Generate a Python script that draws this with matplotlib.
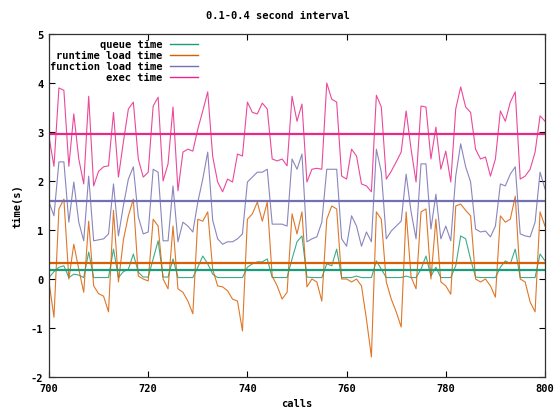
import numpy as np
import matplotlib
matplotlib.use("Agg")
import matplotlib.pyplot as plt

calls = list(range(700, 801))

exec_time = [2.9, 2.3, 3.9, 3.85, 2.3, 3.37, 2.45, 1.94, 3.73, 1.9,
             2.2, 2.29, 2.31, 3.4, 2.08, 2.8, 3.47, 3.61, 2.45, 2.08,
             2.18, 3.53, 3.71, 2.0, 2.35, 3.51, 1.8, 2.59, 2.65, 2.61,
             3.06, 3.43, 3.82, 2.5, 1.98, 1.78, 2.04, 1.98, 2.55, 2.51,
             3.61, 3.4, 3.37, 3.59, 3.47, 2.45, 2.41, 2.45, 2.31, 3.73,
             3.22, 3.57, 1.98, 2.24, 2.26, 2.24, 4.0, 3.67, 3.61, 2.1,
             2.04, 2.65, 2.51, 1.94, 1.9, 1.78, 3.75, 3.51, 2.04, 2.2,
             2.39, 2.59, 3.43, 2.65, 1.98, 3.53, 3.51, 2.45, 3.1, 2.24,
             2.61, 1.98, 3.47, 3.92, 3.51, 3.4, 2.65, 2.45, 2.49, 2.1,
             2.45, 3.43, 3.22, 3.61, 3.82, 2.04, 2.1, 2.24, 2.59, 3.33,
             3.22]

function_time = [1.57, 1.29, 2.39, 2.39, 1.16, 1.98, 1.16, 0.78, 2.1, 0.78,
                 0.8, 0.82, 0.92, 1.94, 0.88, 1.5, 2.04, 2.29, 1.27, 0.92,
                 0.96, 2.24, 2.18, 0.78, 0.78, 1.9, 0.76, 1.16, 1.08, 0.96,
                 1.57, 2.04, 2.59, 1.2, 0.82, 0.71, 0.76, 0.76, 0.82, 0.92,
                 1.98, 2.08, 2.18, 2.18, 2.24, 1.12, 1.12, 1.12, 1.08, 2.45,
                 2.24, 2.55, 0.76, 0.82, 0.86, 1.16, 2.24, 2.24, 2.24, 0.82,
                 0.67, 1.29, 1.08, 0.67, 0.96, 0.76, 2.65, 2.18, 0.82, 0.98,
                 1.08, 1.18, 2.14, 1.37, 0.82, 2.35, 2.35, 1.02, 1.73, 0.82,
                 1.08, 0.78, 2.1, 2.76, 2.29, 1.98, 1.02, 0.96, 0.98, 0.86,
                 1.08, 1.94, 1.9, 2.14, 2.29, 0.92, 0.88, 0.86, 1.16, 2.18,
                 1.84]

runtime_time = [-0.06, -0.78, 1.43, 1.63, 0.0, 0.71, 0.2, -0.27, 1.18, -0.14,
                -0.3, -0.35, -0.67, 1.4, -0.06, 0.8, 1.29, 1.63, 0.06, 0.0,
                -0.04, 1.22, 1.08, 0.0, -0.2, 1.08, -0.2, -0.27, -0.45, -0.71,
                1.22, 1.18, 1.37, 0.2, -0.14, -0.16, -0.24, -0.41, -0.45, -1.06,
                1.22, 1.33, 1.57, 1.18, 1.57, 0.06, -0.14, -0.41, -0.27, 1.33,
                0.92, 1.37, -0.16, 0.0, -0.06, -0.45, 1.22, 1.49, 1.43, 0.0,
                0.0, -0.06, 0.0, -0.14, -0.82, -1.59, 1.37, 1.22, -0.06, -0.41,
                -0.67, -0.98, 1.37, 0.04, -0.2, 1.37, 1.43, 0.0, 1.22, -0.06,
                -0.14, -0.31, 1.49, 1.53, 1.4, 1.29, 0.0, -0.06, 0.0, -0.14,
                -0.37, 1.29, 1.16, 1.22, 1.69, 0.0, -0.06, -0.47, -0.67, 1.37,
                1.08]

queue_time = [0.03, 0.15, 0.24, 0.27, 0.03, 0.1, 0.08, 0.03, 0.55, 0.03,
              0.03, 0.03, 0.03, 0.61, 0.03, 0.15, 0.2, 0.51, 0.14, 0.04,
              0.04, 0.41, 0.78, 0.04, 0.04, 0.41, 0.03, 0.03, 0.03, 0.03,
              0.24, 0.47, 0.31, 0.1, 0.03, 0.03, 0.03, 0.03, 0.03, 0.03,
              0.24, 0.31, 0.35, 0.35, 0.41, 0.03, 0.03, 0.03, 0.03, 0.41,
              0.76, 0.88, 0.04, 0.03, 0.03, 0.03, 0.31, 0.27, 0.61, 0.03,
              0.03, 0.03, 0.06, 0.03, 0.03, 0.03, 0.37, 0.2, 0.03, 0.03,
              0.03, 0.03, 0.06, 0.03, 0.03, 0.2, 0.47, 0.06, 0.24, 0.03,
              0.03, 0.03, 0.27, 0.88, 0.82, 0.4, 0.04, 0.03, 0.03, 0.03,
              0.03, 0.24, 0.37, 0.31, 0.61, 0.03, 0.03, 0.03, 0.03, 0.51,
              0.37]

labels = ["queue time", "runtime load time", "function load time", "exec time"]
means = [0.19, 0.33, 1.6, 2.96]
colors = ["#1b9e77", "#d95f02", "#7570b3", "#e7298a"]
series = [queue_time, runtime_time, function_time, exec_time]

title = "0.1-0.4 second interval"
xticks = [700, 720, 740, 760, 780, 800]
yticks = [-2, -1, 0, 1, 2, 3, 4, 5]

font = {"family": "DejaVu Sans Mono", "weight": "bold", "size": 7.5}

fig = plt.figure(figsize=(5.55, 4.10), dpi=100)
ax = fig.add_axes([0.0883, 0.078, 0.8937, 0.8366])

for s, c in zip(series, colors):
    ax.plot(calls, s, color=c, lw=0.8, alpha=0.85)
for m, c in zip(means, colors):
    ax.axhline(m, color=c, lw=1.6)

ax.set_xlim(700, 800)
ax.set_ylim(-2, 5)
ax.set_xticks(xticks)
ax.set_yticks(yticks)
ax.set_xticklabels([str(t) for t in xticks], fontdict=font)
ax.set_yticklabels([str(t) for t in yticks], fontdict=font)
ax.tick_params(direction="in", length=4, width=0.8, top=True, right=True,
               pad=4, colors="black")
for sp in ax.spines.values():
    sp.set_linewidth(0.9)
    sp.set_color("#333333")

ax.set_xlabel("calls", fontdict=font, labelpad=4)
ax.set_ylabel("time(s)", fontdict=font, labelpad=6)
fig.text(0.501, 0.961, title, ha="center", va="center", **font)

# legend drawn gnuplot-style: right-aligned labels, sample line to the right
ys = [0.971, 0.939, 0.907, 0.875]
for lab, c, y in zip(labels, colors, ys):
    ax.text(0.228, y, lab, transform=ax.transAxes, ha="right", va="center", **font)
    ax.plot([0.244, 0.300], [y, y], transform=ax.transAxes, color=c, lw=1.0)

fig.savefig("out.png", dpi=100)
